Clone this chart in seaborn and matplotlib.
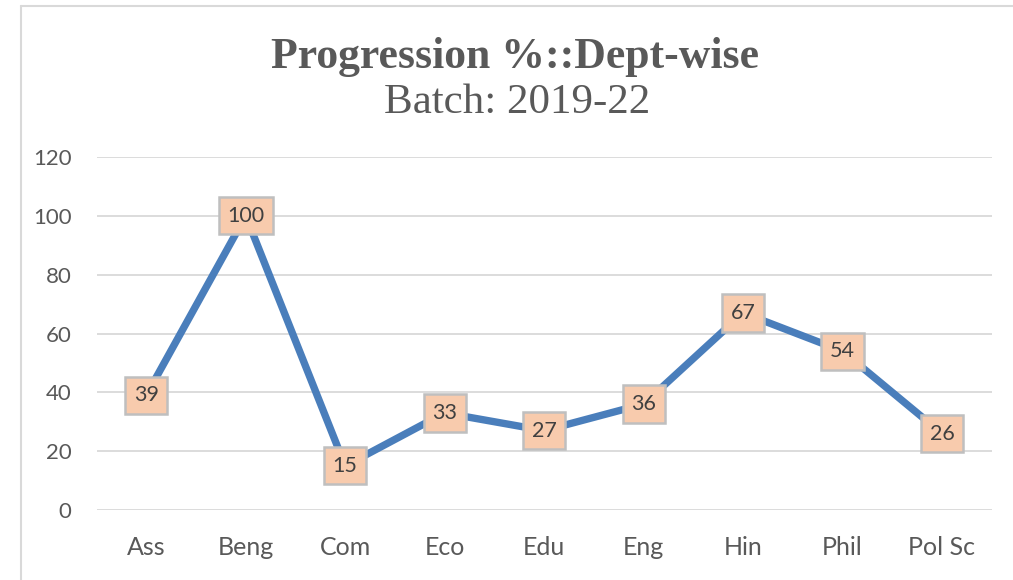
import numpy as np
import pandas as pd
import matplotlib.pyplot as plt
import seaborn as sns
from matplotlib.lines import Line2D

# Data
depts = ["Ass", "Beng", "Com", "Eco", "Edu", "Eng", "Hin", "Phil", "Pol Sc"]
progression = [39, 100, 15, 33, 27, 36, 67, 54, 26]
y_ticks = [0, 20, 40, 60, 80, 100, 120]

df = pd.DataFrame({"dept": depts, "pct": progression})

sns.set_theme(style="white")
plt.rcParams['font.family'] = ['Lato', 'DejaVu Sans']

fig = plt.figure(figsize=(10.13, 5.80), dpi=100)
ax = fig.add_axes([0.0953, 0.1207, 0.8837, 0.6086])

x = np.arange(len(depts))
df["x"] = x
sns.lineplot(data=df, x="x", y="pct", ax=ax, color="#4a7ebb", linewidth=5.3,
             solid_joinstyle="round", solid_capstyle="round", zorder=3)

# data labels in boxes
for xi, v in zip(x, progression):
    ax.text(xi, v, str(v), ha="center", va="center", fontsize=15.5, color="#404040",
            zorder=5,
            bbox=dict(boxstyle="square,pad=0.4", facecolor="#f8cbad", edgecolor="#bfbfbf",
                      linewidth=1.8))

ax.set_xlim(-0.5, len(depts) - 0.5)
ax.set_ylim(0, 120)
ax.set_yticks(y_ticks)
ax.set_xticks(x)
ax.set_xticklabels(depts)
ax.yaxis.grid(True, color="#d9d9d9", linewidth=1.3)
ax.xaxis.grid(False)
for s in ax.spines.values():
    s.set_visible(False)
ax.tick_params(axis="both", length=0, colors="#595959")
ax.tick_params(axis="x", pad=19, labelsize=18)
ax.tick_params(axis="y", pad=18, labelsize=16)
ax.set_xlabel("")
ax.set_ylabel("")

# titles
fig.text(0.508, 1 - 68 / 580, "Progression %::Dept-wise", ha="center", va="baseline",
         fontsize=31.5, fontweight="bold", color="#595959", family="Liberation Serif")
fig.text(0.51, 1 - 113 / 580, "Batch: 2019-22", ha="center", va="baseline",
         fontsize=31, color="#595959", family="Liberation Serif")

# chart-area border (top and left visible)
fig.add_artist(Line2D([21 / 1013, 1.0], [1 - 6 / 580, 1 - 6 / 580], transform=fig.transFigure,
                      color="#d9d9d9", linewidth=1.5))
fig.add_artist(Line2D([21 / 1013, 21 / 1013], [0, 1 - 6 / 580], transform=fig.transFigure,
                      color="#d9d9d9", linewidth=1.5))

fig.savefig("out.png", dpi=100)
